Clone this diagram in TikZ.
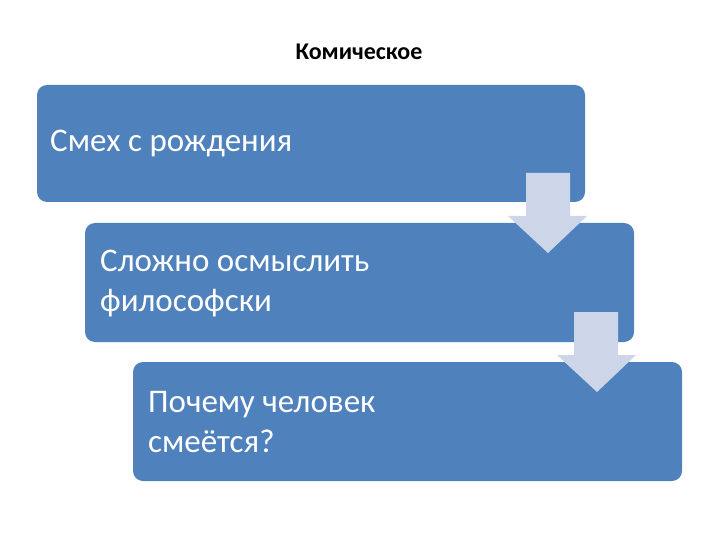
\documentclass[tikz,border=0pt]{standalone}
\usepackage{fontspec}
\setmainfont{Carlito}
\begin{document}
\begin{tikzpicture}[x=1pt,y=-1pt,
  box/.style={fill=boxblue,rounded corners=10pt},
  txt/.style={text=white,font=\fontsize{33}{40}\selectfont,align=left,anchor=west,inner sep=0pt},
  arr/.style={fill=arrgray,draw=none}]
\definecolor{boxblue}{HTML}{4F81BD}
\definecolor{arrgray}{HTML}{CCD6E8}
\useasboundingbox (0,0) rectangle (720,540);
\node[font=\bfseries\fontsize{24}{28}\selectfont] (title) at (359,52) {Комическое};
\fill[box] (37,85) rectangle (585,202);
\fill[box] (85,223) rectangle (634,342);
\fill[box] (133,362) rectangle (682,481);
\node[txt] (t1) at (50,144) {Смех с рождения};
\node[txt] (t2) at (100,283) {Сложно осмыслить\\философски};
\node[txt] (t3) at (148,422) {Почему человек\\смеётся?};
\fill[arr] (526,173) -- (570,173) -- (570,216) -- (587,216) -- (548,253) -- (508,216) -- (526,216) -- cycle;
\fill[arr] (574,312) -- (618,312) -- (618,355) -- (636,355) -- (597,392) -- (557,355) -- (574,355) -- cycle;
\end{tikzpicture}
\end{document}
